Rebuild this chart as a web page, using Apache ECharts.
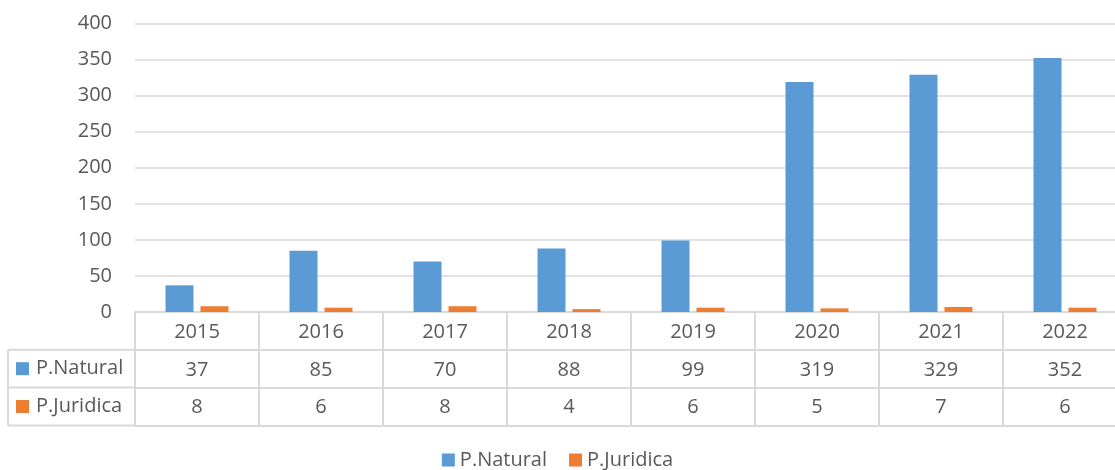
<!DOCTYPE html>
<html>
<head>
<meta charset="utf-8">
<script src="https://cdn.jsdelivr.net/npm/echarts@6/dist/echarts.min.js"></script>
<style>
html,body{margin:0;padding:0;background:#fff;}
#chart{width:1115px;height:470px;}
</style>
</head>
<body>
<div id="chart"></div>
<script>
var years = ['2015','2016','2017','2018','2019','2020','2021','2022'];
var natural = [37, 85, 70, 88, 99, 319, 329, 352];
var juridica = [8, 6, 8, 4, 6, 5, 7, 6];
var seriesNames = ['P.Natural', 'P.Juridica'];
var colors = ['#5b9bd5', '#ed7d31'];

var FONT = '"Open Sans", "Noto Sans", sans-serif';
var TXT = '#595959';
var LINE = '#d9d9d9';
var ROW = 37.8;

var chart = echarts.init(document.getElementById('chart'));

function tableAxis(data, offset, showLabel, showTick) {
  return {
    type: 'category',
    data: data,
    position: 'bottom',
    offset: offset,
    boundaryGap: true,
    axisLine: {show: true, lineStyle: {color: LINE, width: 2}},
    axisTick: {show: showTick, interval: 0, length: ROW, lineStyle: {color: LINE, width: 2}},
    axisLabel: {show: showLabel, interval: 0, margin: 10, color: TXT, fontSize: 20, fontFamily: FONT, lineHeight: 20},
    splitLine: {show: false}
  };
}

var option = {
  backgroundColor: '#fff',
  color: colors,
  animation: false,
  grid: {left: 135, top: 23.5, width: 992, bottom: 158, containLabel: false, outerBoundsMode: 'none'},
  legend: {
    top: 449,
    left: 'center',
    itemWidth: 13,
    itemHeight: 13,
    itemGap: 22,
    padding: 0,
    icon: 'rect',
    textStyle: {color: TXT, fontSize: 20, fontFamily: FONT, lineHeight: 22},
    data: seriesNames
  },
  xAxis: [
    tableAxis(years, 0, true, true),
    tableAxis(natural.map(String), ROW, true, true),
    tableAxis(juridica.map(String), ROW * 2, true, true),
    tableAxis(years.map(function(){return '';}), ROW * 3, false, false)
  ],
  yAxis: {
    type: 'value',
    min: 0,
    max: 400,
    interval: 50,
    axisLine: {show: false},
    axisTick: {show: false},
    axisLabel: {color: TXT, fontSize: 20, fontFamily: FONT, margin: 23},
    splitLine: {lineStyle: {color: LINE, width: 1.5}}
  },
  series: [
    {name: seriesNames[0], type: 'bar', xAxisIndex: 0, data: natural, barWidth: 28, barGap: '25%'},
    {name: seriesNames[1], type: 'bar', xAxisIndex: 0, data: juridica, barWidth: 28, barGap: '25%'}
  ],
  graphic: [
    {type: 'line', shape: {x1: 8, y1: 312 + ROW, x2: 135, y2: 312 + ROW}, style: {stroke: LINE, lineWidth: 2}},
    {type: 'line', shape: {x1: 8, y1: 312 + ROW * 2, x2: 135, y2: 312 + ROW * 2}, style: {stroke: LINE, lineWidth: 2}},
    {type: 'line', shape: {x1: 8, y1: 312 + ROW * 3, x2: 135, y2: 312 + ROW * 3}, style: {stroke: LINE, lineWidth: 2}},
    {type: 'line', shape: {x1: 8, y1: 312 + ROW, x2: 8, y2: 312 + ROW * 3}, style: {stroke: LINE, lineWidth: 2}},
    {type: 'rect', shape: {x: 16, y: 312 + ROW * 1.5 - 6.5, width: 13, height: 13}, style: {fill: colors[0]}},
    {type: 'rect', shape: {x: 16, y: 312 + ROW * 2.5 - 6.5, width: 13, height: 13}, style: {fill: colors[1]}},
    {type: 'text', x: 36, y: 312 + ROW * 1.5, style: {text: seriesNames[0], fill: TXT, font: '20px ' + FONT, textVerticalAlign: 'middle', verticalAlign: 'middle'}},
    {type: 'text', x: 36, y: 312 + ROW * 2.5, style: {text: seriesNames[1], fill: TXT, font: '20px ' + FONT, textVerticalAlign: 'middle', verticalAlign: 'middle'}}
  ]
};
chart.setOption(option);
</script>
</body>
</html>
